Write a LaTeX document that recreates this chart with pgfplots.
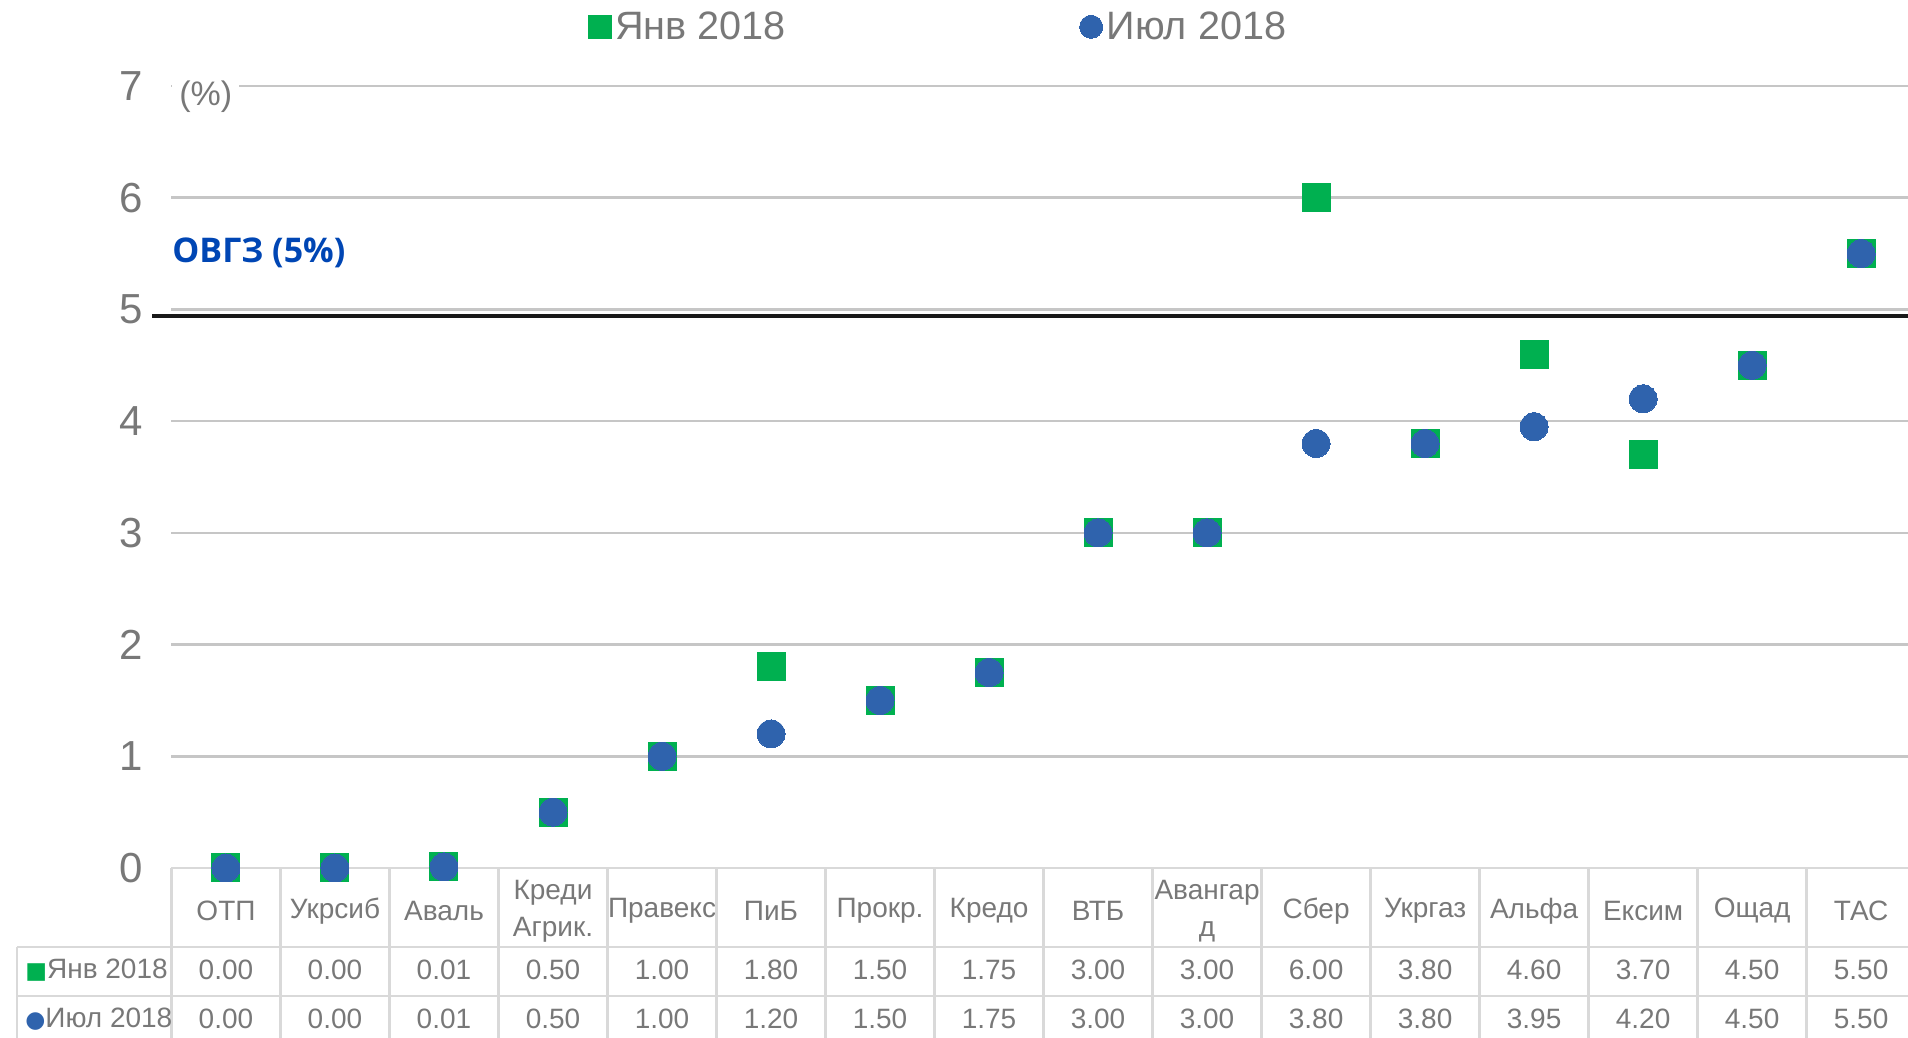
\documentclass[border=0pt]{standalone}
\usepackage{pgfplots}
\pgfplotsset{compat=1.18}
\usepackage{pgfplotstable}
\usepackage{fontspec}
\setmainfont{Liberation Sans}
\newfontfamily\opensans{Open Sans}
\newfontfamily\dejavu{DejaVu Sans}
\definecolor{jangreen}{HTML}{00B050}
\definecolor{julblue}{HTML}{2F63AD}
\definecolor{txtgray}{HTML}{787878}
\definecolor{gridgray}{HTML}{C6C6C6}
\definecolor{tablegray}{HTML}{D9D9D9}
\definecolor{ovgzblue}{HTML}{0046B4}

\pgfplotstableread{
x jan jul
0 0.00 0.00
1 0.00 0.00
2 0.01 0.01
3 0.50 0.50
4 1.00 1.00
5 1.80 1.20
6 1.50 1.50
7 1.75 1.75
8 3.00 3.00
9 3.00 3.00
10 6.00 3.80
11 3.80 3.80
12 4.60 3.95
13 3.70 4.20
14 4.50 4.50
15 5.50 5.50
}\rates

\begin{document}
\begin{tikzpicture}
\begin{axis}[
  scale only axis, width=872pt, height=390.95pt,
  xmin=-0.5, xmax=15.5, ymin=0, ymax=7,
  clip=false,
  axis line style={draw=none},
  ytick={0,...,7},
  ymajorgrids, grid style={gridgray, line width=1.3pt},
  major tick length=0pt,
  /pgf/number format/assume math mode=true,
  yticklabel style={anchor=east, inner sep=0pt, xshift=-14.25pt, font=\fontsize{21pt}{25pt}\selectfont, text=txtgray},
  xtick={0,...,15},
  xticklabels={ОТП, Укрсиб, Аваль, {Креди\\Агрик.}, Правекс, ПиБ, Прокр., Кредо, ВТБ, {Авангар\\д}, Сбер, Укргаз, Альфа, Ексим, Ощад, ТАС},
  xticklabel style={anchor=center, align=center, inner sep=0pt, yshift=-21.5pt, font=\fontsize{14pt}{18.5pt}\selectfont, text=txtgray},
  legend style={at={(axis cs:3.321,7.53)}, anchor=west, draw=none, fill=none, inner sep=0pt, outer sep=0pt,
    font=\fontsize{19.8pt}{22pt}\selectfont, legend columns=2,
    /tikz/every even column/.append style={column sep=145pt},
    nodes={inner sep=2pt, text=txtgray}},
  legend image code/.code={\draw[#1, mark size=5.75pt] plot coordinates {(0pt,0pt)};},
]
% table lines
\draw[tablegray, line width=1.4pt] (axis cs:-0.5,0) -- (axis cs:15.5,0);
\draw[tablegray, line width=1.4pt] (axis cs:-1.917,-0.707) -- (axis cs:15.5,-0.707);
\draw[tablegray, line width=1.4pt] (axis cs:-1.917,-1.146) -- (axis cs:15.5,-1.146);
\draw[tablegray, line width=1.4pt] (axis cs:-1.917,-0.707) -- (axis cs:-1.917,-1.7);
\pgfplotsinvokeforeach{-0.5,0.5,...,15.5}{
  \draw[tablegray, line width=1.4pt] (axis cs:#1,0) -- (axis cs:#1,-1.7);
}
% OVGZ line
\draw[line width=2pt, color=black!90] (axis cs:-0.675,4.94) -- (axis cs:15.5,4.94);
\node[anchor=west, inner sep=0pt, font=\opensans\bfseries\fontsize{17pt}{20pt}\selectfont, text=ovgzblue] at (axis cs:-0.495,5.506) {ОВГЗ (5\%)};
\node[anchor=west, fill=white, inner sep=3.5pt, font=\fontsize{17pt}{20pt}\selectfont, text=txtgray] at (axis cs:-0.495,6.90) {(\%)};

\addplot[only marks, mark=square*, mark size=7pt, mark options={fill=jangreen, draw=jangreen, line width=0pt}]
  table[x=x, y=jan]{\rates};
\addlegendentry{Янв 2018}
\addplot[only marks, mark=*, mark size=7pt, mark options={fill=julblue, draw=julblue, line width=0pt}]
  table[x=x, y=jul]{\rates};
\addlegendentry{Июл 2018}

% data table values
\addplot[forget plot, draw=none, mark=none, point meta=explicit,
  nodes near coords={\pgfmathprintnumber[fixed,fixed zerofill,precision=2]{\pgfplotspointmeta}},
  nodes near coords align={center},
  every node near coord/.append style={font=\fontsize{14pt}{16pt}\selectfont, text=txtgray, inner sep=0pt}]
  table[x=x, y expr=-0.913, meta=jan]{\rates};
\addplot[forget plot, draw=none, mark=none, point meta=explicit,
  nodes near coords={\pgfmathprintnumber[fixed,fixed zerofill,precision=2]{\pgfplotspointmeta}},
  nodes near coords align={center},
  every node near coord/.append style={font=\fontsize{14pt}{16pt}\selectfont, text=txtgray, inner sep=0pt}]
  table[x=x, y expr=-1.35, meta=jul]{\rates};

\node[anchor=west, inner sep=0pt, font=\fontsize{14pt}{16pt}\selectfont, text=txtgray] at (axis cs:-1.844,-0.913) {{\dejavu\fontsize{11.5pt}{11.5pt}\selectfont\textcolor{jangreen}{■}}Янв 2018};
\node[anchor=west, inner sep=0pt, font=\fontsize{14pt}{16pt}\selectfont, text=txtgray] at (axis cs:-1.844,-1.35) {{\dejavu\fontsize{11.5pt}{11.5pt}\selectfont\textcolor{julblue}{●}}Июл 2018};

\coordinate (bbA) at (axis cs:-2.073,-1.522);
\coordinate (bbB) at (axis cs:15.43,7.77);
\end{axis}
\pgfresetboundingbox
\path[use as bounding box] (bbA) rectangle (bbB);
\end{tikzpicture}
\end{document}
